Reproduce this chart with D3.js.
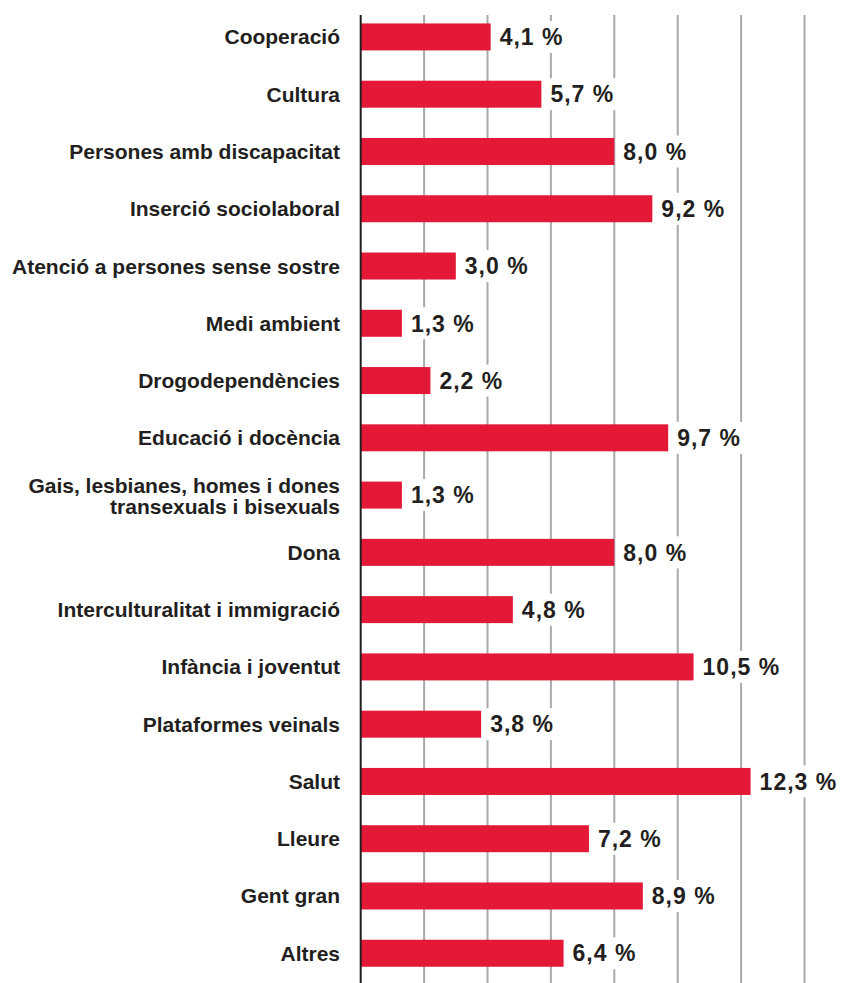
<!DOCTYPE html>
<html>
<head>
<meta charset="utf-8">
<script src="https://cdn.jsdelivr.net/npm/d3@7"></script>
<style>
  body { margin: 0; background: #fff; }
  svg { display: block; }
  .cat { font-family: "Liberation Sans", Arial, sans-serif; font-weight: bold; font-size: 21px; fill: #231f20; }
  .val { font-family: "Liberation Sans", Arial, sans-serif; font-weight: bold; font-size: 23px; letter-spacing: 1px; fill: #231f20; }
</style>
</head>
<body>
<div id="chart"></div>
<script>
// Dades
const categories = [
  ["Cooperació"],
  ["Cultura"],
  ["Persones amb discapacitat"],
  ["Inserció sociolaboral"],
  ["Atenció a persones sense sostre"],
  ["Medi ambient"],
  ["Drogodependències"],
  ["Educació i docència"],
  ["Gais, lesbianes, homes i dones", "transexuals i bisexuals"],
  ["Dona"],
  ["Interculturalitat i immigració"],
  ["Infància i joventut"],
  ["Plataformes veinals"],
  ["Salut"],
  ["Lleure"],
  ["Gent gran"],
  ["Altres"]
];
const values = [4.1, 5.7, 8.0, 9.2, 3.0, 1.3, 2.2, 9.7, 1.3, 8.0, 4.8, 10.5, 3.8, 12.3, 7.2, 8.9, 6.4];
const gridTicks = [2, 4, 6, 8, 10, 12, 14];

const width = 841, height = 983;
const axisX = 360.7, labelX = 340;

const svg = d3.select("#chart")
  .append("svg")
  .attr("width", width)
  .attr("height", height);

const x = d3.scaleLinear()
  .domain([0, 14])
  .range([axisX, axisX + 14 * 31.7]);

const step = 57.27, barH = 27;
const y = d3.scaleBand()
  .domain(d3.range(values.length))
  .range([8.3, 8.3 + step * values.length])
  .paddingInner(1 - barH / step)
  .paddingOuter((1 - barH / step) / 2);

// Linies de la graella
svg.append("g")
  .selectAll("line")
  .data(gridTicks)
  .join("line")
  .attr("x1", d => x(d))
  .attr("x2", d => x(d))
  .attr("y1", 15)
  .attr("y2", height)
  .attr("stroke", "#a7a9ac")
  .attr("stroke-width", 2);

// Barres
svg.append("g")
  .selectAll("rect")
  .data(values)
  .join("rect")
  .attr("x", x(0))
  .attr("y", (d, i) => y(i))
  .attr("width", d => x(d) - x(0))
  .attr("height", y.bandwidth())
  .attr("fill", "#e31937");

// Etiquetes de valor (amb fons blanc que talla la graella)
const fmt = d => d.toFixed(1).replace(".", ",") + " %";
const vals = svg.append("g")
  .selectAll("g")
  .data(values)
  .join("g")
  .attr("transform", (d, i) => `translate(${x(d) + 9},${y(i) + y.bandwidth() / 2})`);

vals.append("text")
  .attr("class", "val")
  .attr("dy", "0.358em")
  .text(fmt);

vals.each(function() {
  const g = d3.select(this);
  const bb = g.select("text").node().getBBox();
  g.insert("rect", "text")
    .attr("x", bb.x - 4)
    .attr("y", -16)
    .attr("width", bb.width + 6)
    .attr("height", 32)
    .attr("fill", "#fff");
});

// Eix vertical
svg.append("line")
  .attr("x1", x(0))
  .attr("x2", x(0))
  .attr("y1", 15)
  .attr("y2", height)
  .attr("stroke", "#231f20")
  .attr("stroke-width", 2);

// Etiquetes de categoria
const cats = svg.append("g")
  .selectAll("text")
  .data(categories)
  .join("text")
  .attr("class", "cat")
  .attr("text-anchor", "end")
  .attr("x", labelX)
  .attr("y", (d, i) => y(i) + y.bandwidth() / 2);

cats.selectAll("tspan")
  .data(d => d.map((t, j) => ({t, j, n: d.length})))
  .join("tspan")
  .attr("x", labelX)
  .attr("dy", d => d.j === 0 ? (d.n > 1 ? "-0.1em" : "0.357em") : "1em")
  .text(d => d.t);
</script>
</body>
</html>
